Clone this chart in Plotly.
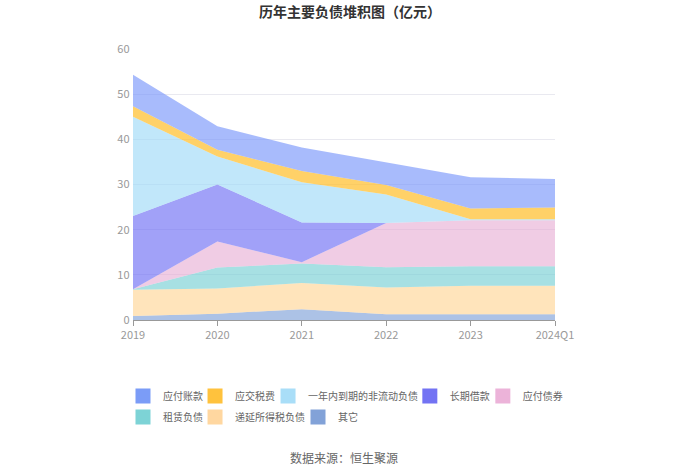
import plotly.graph_objects as go

categories = ["2019", "2020", "2021", "2022", "2023", "2024Q1"]

# values (亿元), stacked from bottom to top
qita = [0.9, 1.4, 2.4, 1.3, 1.3, 1.3]            # 其它
diyan = [5.8, 5.6, 5.8, 5.9, 6.3, 6.3]           # 递延所得税负债
zulin = [0.1, 4.6, 4.3, 4.5, 4.3, 4.3]           # 租赁负债
yingfu_zhaiquan = [0.0, 5.8, 0.3, 9.8, 10.2, 10.2]   # 应付债券
changqi = [16.2, 12.6, 8.8, 0.0, 0.0, 0.0]       # 长期借款
yinian = [22.0, 6.2, 8.9, 6.3, 0.2, 0.2]         # 一年内到期的非流动负债
yingjiao = [2.3, 1.5, 2.5, 2.1, 2.4, 2.6]        # 应交税费
yingfu_zhangkuan = [7.0, 5.2, 5.2, 5.0, 6.9, 6.3]  # 应付账款

# name, values, area colour, legend colour, legend id, legend x (paper), legend row
series = [
    ("其它", qita, "rgba(127,161,216,0.65)", "#82a2d8", "legend8", 0.391, 2),
    ("递延所得税负债", diyan, "rgba(255,214,150,0.65)", "#ffd7a0", "legend7", 0.147, 2),
    ("租赁负债", zulin, "rgba(120,208,212,0.65)", "#7dd3d6", "legend6", -0.0237, 2),
    ("应付债券", yingfu_zhaiquan, "rgba(230,170,210,0.6)", "#ecb3d9", "legend5", 0.829, 1),
    ("长期借款", changqi, "rgba(110,110,245,0.65)", "#7373f3", "legend4", 0.656, 1),
    ("一年内到期的非流动负债", yinian, "rgba(160,218,248,0.65)", "#a9def8", "legend3", 0.320, 1),
    ("应交税费", yingjiao, "rgba(255,190,40,0.7)", "#ffc23d", "legend2", 0.147, 1),
    ("应付账款", yingfu_zhangkuan, "rgba(122,150,250,0.65)", "#7b9cf7", "legend", -0.0237, 1),
]

fig = go.Figure()
legend_layouts = {}
row_y = {1: (320 - 396) / 271.0, 2: (320 - 417) / 271.0}
for name, vals, color, lcolor, lg, lx, row in series:
    fig.add_trace(go.Scatter(
        x=categories, y=vals, name=name, mode="lines",
        stackgroup="one", line=dict(width=0, color=color),
        fillcolor=color, showlegend=False,
    ))
for name, vals, color, lcolor, lg, lx, row in series:
    fig.add_trace(go.Scatter(
        x=[None], y=[None], name=name, mode="markers",
        marker=dict(symbol="square", size=15, color=lcolor),
        legend=lg, showlegend=True,
    ))
    legend_layouts[lg] = dict(
        orientation="h", x=lx, xanchor="left", y=row_y[row], yanchor="middle",
        font=dict(size=10, color="#666"), bgcolor="rgba(0,0,0,0)",
        borderwidth=0, tracegroupgap=0,
    )

font_family = "Noto Sans CJK SC, Noto Sans, sans-serif"

fig.update_layout(
    width=700, height=474,
    margin=dict(l=133, r=145, t=49, b=154, autoexpand=False),
    paper_bgcolor="white", plot_bgcolor="white",
    font=dict(family=font_family, size=11, color="#666"),
    title=dict(text="<b>历年主要负债堆积图（亿元）</b>", x=0.5, xanchor="center",
               y=1 - 12 / 474.0, yanchor="middle", font=dict(size=14, color="#333")),
    xaxis=dict(type="category", range=[0, 5], showgrid=False,
               showline=True, linecolor="#999", linewidth=1,
               ticks="outside", ticklen=5, tickcolor="#999",
               tickfont=dict(size=11, color="#999")),
    yaxis=dict(range=[0, 60], dtick=10, showgrid=True, gridcolor="#e9e9f0",
               zeroline=False, showline=False, tickfont=dict(size=11, color="#999"),
               ticksuffix=" "),
    annotations=[dict(text="数据来源：恒生聚源", x=0.5, xref="paper", y=(320 - 457) / 271.0,
                      yref="paper", xanchor="center", yanchor="middle",
                      showarrow=False, font=dict(size=12, color="#666"))],
    showlegend=True,
    hovermode=False,
)
fig.update_layout(**legend_layouts)
fig.write_html("out.html", config={"displayModeBar": False},
               post_script="document.body.style.margin='0';document.body.style.padding='0';")
